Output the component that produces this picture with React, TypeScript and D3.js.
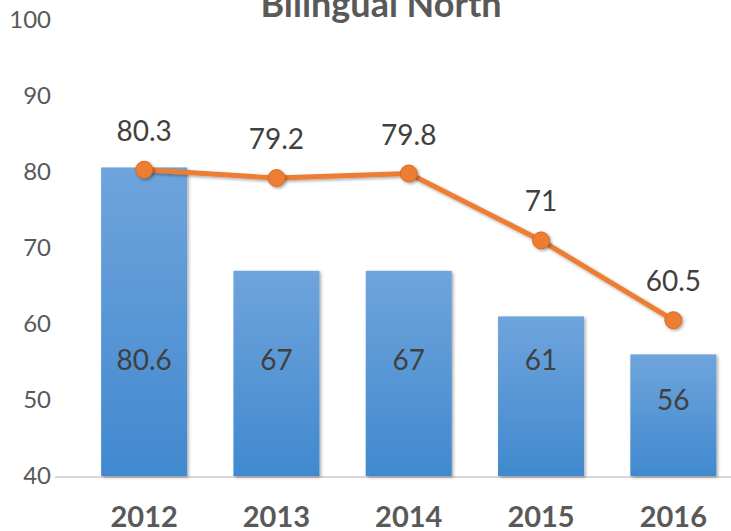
import React from "react";
import * as d3 from "d3";

const categories = ["2012", "2013", "2014", "2015", "2016"];
const barValues = [80.6, 67, 67, 61, 56];
const lineValues = [80.3, 79.2, 79.8, 71, 60.5];
const barLabelAt = [55.3, 55.3, 55.3, 55.3, 50];
const yTicks = [40, 50, 60, 70, 80, 90, 100];
const title = "Bilingual North";

const W = 731;
const H = 531;

export default function App() {
  const x = d3.scaleBand<string>().domain(categories).range([78, 739.5]).paddingInner(0.35).paddingOuter(0.175);
  const y = d3.scaleLinear().domain([40, 100]).range([476, 20]);
  const cx = (i: number) => (x(categories[i]) as number) + x.bandwidth() / 2;
  const line = d3
    .line<number>()
    .x((_, i) => cx(i))
    .y((d) => y(d));
  const font = "Lato, 'Noto Sans', sans-serif";
  return (
    <svg width={W} height={H} style={{ position: "absolute", left: 0, top: 0, background: "#fff" }} fontFamily={font}>
      <defs>
        <linearGradient id="barGrad" x1="0" y1="0" x2="0" y2="1">
          <stop offset="0%" stopColor="#6fa4dc" />
          <stop offset="100%" stopColor="#4189cf" />
        </linearGradient>
        <filter id="shadow" x="-20%" y="-20%" width="140%" height="140%">
          <feDropShadow dx="1.5" dy="1.5" stdDeviation="1.5" floodColor="#000" floodOpacity="0.35" />
        </filter>
      </defs>
      <text x={381} y={17} textAnchor="middle" fontSize={36} fontWeight="bold" fill="#595959">
        {title}
      </text>
      {yTicks.map((t) => (
        <text key={t} x={51} y={y(t)} dy="0.35em" textAnchor="end" fontSize={24} fill="#595959">
          {t}
        </text>
      ))}
      <line x1={55} x2={W} y1={y(40) + 1} y2={y(40) + 1} stroke="#d9d9d9" strokeWidth={2} />
      {barValues.map((v, i) => (
        <rect
          key={i}
          x={x(categories[i])}
          y={y(v)}
          width={x.bandwidth()}
          height={y(40) - y(v)}
          fill="url(#barGrad)"
          filter="url(#shadow)"
        />
      ))}
      {barValues.map((v, i) => (
        <text key={"bl" + i} x={cx(i)} y={y(barLabelAt[i])} dy="0.36em" textAnchor="middle" fontSize={28} fill="#404040">
          {v}
        </text>
      ))}
      <path d={line(lineValues) || ""} fill="none" stroke="#ed7d31" strokeWidth={5} strokeLinejoin="round" filter="url(#shadow)" />
      {lineValues.map((v, i) => (
        <circle key={"c" + i} cx={cx(i)} cy={y(v)} r={8.5} fill="#ed7d31" stroke="#d86b22" strokeWidth={1} filter="url(#shadow)" />
      ))}
      {lineValues.map((v, i) => (
        <text key={"ll" + i} x={cx(i)} y={y(v) - 39} dy="0.36em" textAnchor="middle" fontSize={28} fill="#404040">
          {v}
        </text>
      ))}
      {categories.map((c, i) => (
        <text key={c} x={cx(i)} y={527} textAnchor="middle" fontSize={29} fontWeight="bold" fill="#595959">
          {c}
        </text>
      ))}
    </svg>
  );
}
